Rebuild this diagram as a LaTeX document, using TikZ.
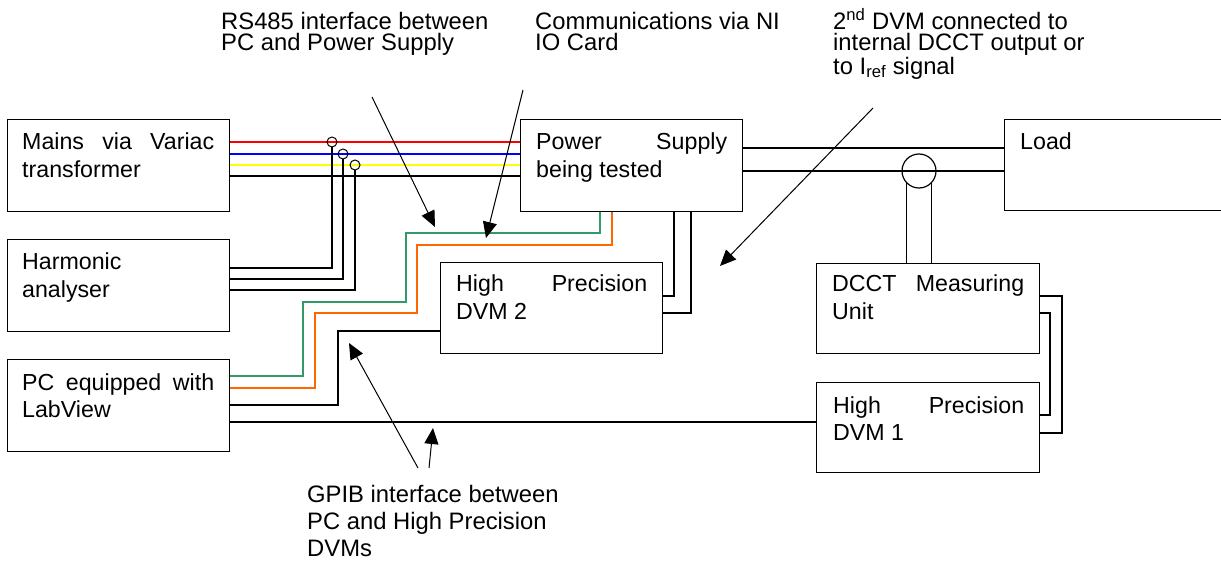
\documentclass[tikz,border=0pt]{standalone}
\usepackage{fontspec}
\setmainfont{Liberation Sans}
\usetikzlibrary{arrows.meta}
\definecolor{wgreen}{RGB}{51,153,102}
\definecolor{worange}{RGB}{255,102,0}
\definecolor{wblue}{RGB}{0,0,255}
\definecolor{wred}{RGB}{255,0,0}
\definecolor{wyellow}{RGB}{255,255,0}
\newcommand\boxfont{\fontsize{23.2}{27.5}\selectfont}
\newcommand\annofont{\fontsize{23.8}{21}\selectfont}
\begin{document}
\begin{tikzpicture}[x=1pt,y=-1pt,
  box/.style={draw, line width=1.3pt, inner sep=0pt, anchor=north west, minimum width=222pt, minimum height=92pt},
  btext/.style={anchor=base west, inner sep=0pt, font=\boxfont},
  anno/.style={anchor=base west, inner sep=0pt, font=\annofont},
  wire/.style={line width=1.2pt},
  arr/.style={line width=1pt, -{Triangle[length=16pt,width=14pt]}},
  tap/.style={circle, draw, line width=1pt, inner sep=0pt}
]
\useasboundingbox (0,0) rectangle (1221,561);
\clip (0,0) rectangle (1221,561);

% boxes
\node[box] (mains) at (7,119) {};
\node[box] (harm) at (7,239) {};
\node[box] (pc) at (7,359) {};
\node[box] (ps) at (520,119) {};
\node[box, minimum height=91pt] (dvmtwo) at (440,262) {};
\node[box, minimum width=240pt, minimum height=91pt] (load) at (1004,119) {};
\node[box, minimum width=223pt, minimum height=90pt] (dcct) at (816,263) {};
\node[box, minimum width=223pt, minimum height=90pt] (dvmone) at (816,382) {};

% box texts
\node[btext] (mainsT) at ([xshift=15pt,yshift=-31pt]mains.north west) {\parbox[t]{192pt}{Mains\hfill via\hfill Variac\\transformer}};
\node[btext] (harmT) at ([xshift=15pt,yshift=-31pt]harm.north west) {\parbox[t]{192pt}{Harmonic\\analyser}};
\node[btext] (pcT) at ([xshift=15pt,yshift=-31pt]pc.north west) {\parbox[t]{192pt}{PC\hfill equipped\hfill with\\LabView}};
\node[btext] (psT) at ([xshift=16pt,yshift=-31pt]ps.north west) {\parbox[t]{191pt}{Power\hfill Supply\\being tested}};
\node[btext] (dvmtwoT) at ([xshift=16pt,yshift=-30pt]dvmtwo.north west) {\parbox[t]{191pt}{High\hfill Precision\\DVM 2}};
\node[btext] (loadT) at ([xshift=16pt,yshift=-31pt]load.north west) {Load};
\node[btext] (dcctT) at ([xshift=16pt,yshift=-29pt]dcct.north west) {\parbox[t]{192pt}{DCCT\hfill Measuring\\Unit}};
\node[btext] (dvmoneT) at ([xshift=17pt,yshift=-31pt]dvmone.north west) {\parbox[t]{191pt}{High\hfill Precision\\DVM 1}};

% mains wires
\draw[wire, wred] ([yshift=-23pt]mains.north east) -- ([yshift=-23pt]ps.north west);
\draw[wire, wblue] ([yshift=-35pt]mains.north east) -- ([yshift=-35pt]ps.north west);
\draw[wire, wyellow] ([yshift=-46pt]mains.north east) -- ([yshift=-46pt]ps.north west);
\draw[wire] ([yshift=-57pt]mains.north east) -- ([yshift=-57pt]ps.north west);

% current taps
\node[tap, minimum size=10pt] (ca) at (332,142) {};
\node[tap, minimum size=10pt] (cb) at (343,154) {};
\node[tap, minimum size=10pt] (cc) at (355,165) {};
\draw[wire] ([yshift=-29pt]harm.north east) -| (ca.south);
\draw[wire] ([yshift=-40pt]harm.north east) -| (cb.south);
\draw[wire] ([yshift=-51pt]harm.north east) -| (cc.south);

% PS to load
\draw[wire] ([yshift=-29pt]ps.north east) -- ([yshift=-29pt]load.north west);
\draw[wire] ([yshift=-52pt]ps.north east) -- ([yshift=-52pt]load.north west);
\node[tap, line width=1.2pt, minimum size=34pt] (ct) at (919,171) {};
\draw[wire] (ct.south west) -- (ct.south west |- dcct.north);
\draw[wire] (ct.south east) -- (ct.south east |- dcct.north);

% communication wires
\draw[wire, wgreen] ([xshift=80pt]ps.south west) -- (600,233) -- (406,233) -- (406,302) -- (303,302) -- (303,376) -- ([yshift=-17pt]pc.north east);
\draw[wire, worange] ([xshift=92pt]ps.south west) -- (612,245) -- (417,245) -- (417,313) -- (315,313) -- (315,388) -- ([yshift=-29pt]pc.north east);
\draw[wire] ([yshift=-46pt]pc.north east) -- (338,405) -- (338,331) -- ([yshift=-69pt]dvmtwo.north west);
\draw[wire] ([yshift=-63pt]pc.north east) -- ([yshift=-40pt]dvmone.north west);

% DVM2 to PS
\draw[wire] ([yshift=-34pt]dvmtwo.north east) -| ([xshift=154pt]ps.south west);
\draw[wire] ([yshift=-51pt]dvmtwo.north east) -| ([xshift=171pt]ps.south west);

% DCCT to DVM1
\draw[wire] ([yshift=-33pt]dcct.north east) -- (1062,296) -- (1062,433) -- ([yshift=-51pt]dvmone.north east);
\draw[wire] ([yshift=-50pt]dcct.north east) -- (1050,313) -- (1050,415) -- ([yshift=-33pt]dvmone.north east);

% annotations
\node[anno] (rsT) at (221,30) {\parbox[t]{300pt}{\raggedright RS485 interface between\\PC and Power Supply}};
\node[anno] (niT) at (535,30) {\parbox[t]{300pt}{\raggedright Communications via NI\\IO Card}};
\node[anno] (dvT) at (833,30) {\parbox[t]{300pt}{\raggedright 2\textsuperscript{nd} DVM connected to\\internal DCCT output or\\to I\textsubscript{ref} signal}};
\node[anno] (gpT) at (307,502) {\parbox[t]{300pt}{\raggedright\baselineskip=27pt GPIB interface between\\PC and High Precision\\DVMs}};

% arrows
\coordinate (rsA) at (372,97);
\coordinate (rsB) at (435,227);
\coordinate (niA) at (523,90);
\coordinate (niB) at (486,238);
\coordinate (dvA) at (873,108);
\coordinate (dvB) at (720,266);
\coordinate (gpA) at (418,468);
\coordinate (gpB) at (349,343);
\coordinate (gqA) at (429,468);
\coordinate (gqB) at (433,428);
\draw[arr] (rsA) -- (rsB);
\draw[arr] (niA) -- (niB);
\draw[arr] (dvA) -- (dvB);
\draw[arr] (gpA) -- (gpB);
\draw[arr] (gqA) -- (gqB);
\end{tikzpicture}
\end{document}
